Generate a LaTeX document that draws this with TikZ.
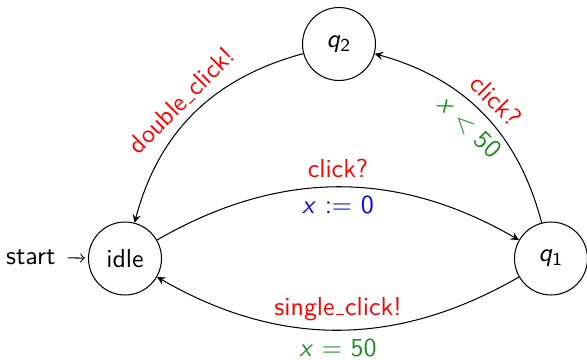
\documentclass[tikz,border=0pt]{standalone}
\definecolor{lblgreen}{RGB}{34,139,34}
\newcommand\myus{\leavevmode\kern.06em\vbox{\hrule width.3em}\kern.04em}
\newcommand\myvar[1]{\textit{#1}}
\begin{document}
\begin{tikzpicture}[x=0.385pt,y=-0.385pt,font=\sffamily,
  statenode/.style={draw,circle,minimum size=28.1pt,inner sep=0pt,line width=0.4pt},
  trans/.style={-stealth,line width=0.4pt},
  inlbl/.style={red},
  outlbl/.style={blue},
  guardlbl/.style={lblgreen}]
\useasboundingbox (0,0) rectangle (587,359);
\node[statenode] (idle) at (125,258.5) {idle};
\node[statenode] (q1) at (551,258.5) {\myvar{q}\textsubscript{1}};
\node[statenode] (q2) at (339,44) {\myvar{q}\textsubscript{2}};
\node[anchor=east,inner sep=0pt] (start) at (56,257.5) {start};
\draw[-to,shorten <=4.5pt,shorten >=1.2pt] (start) -- (idle);
\draw[trans] (idle) to[bend left=30]
  node[above,inlbl] {click?}
  node[below,outlbl] {\myvar{x} := 0} (q1);
\draw[trans] (q1) to[bend left=30]
  node[above,inlbl] {single\myus click!}
  node[below,guardlbl] {\myvar{x} = 50} (idle);
\draw[trans] (q1) to[bend right=30]
  node[above,sloped,inlbl] {click?}
  node[below,sloped,guardlbl] {\myvar{x} < 50} (q2);
\draw[trans] (q2) to[bend right=30]
  node[above,sloped,inlbl] {double\myus click!} (idle);
\end{tikzpicture}
\end{document}
